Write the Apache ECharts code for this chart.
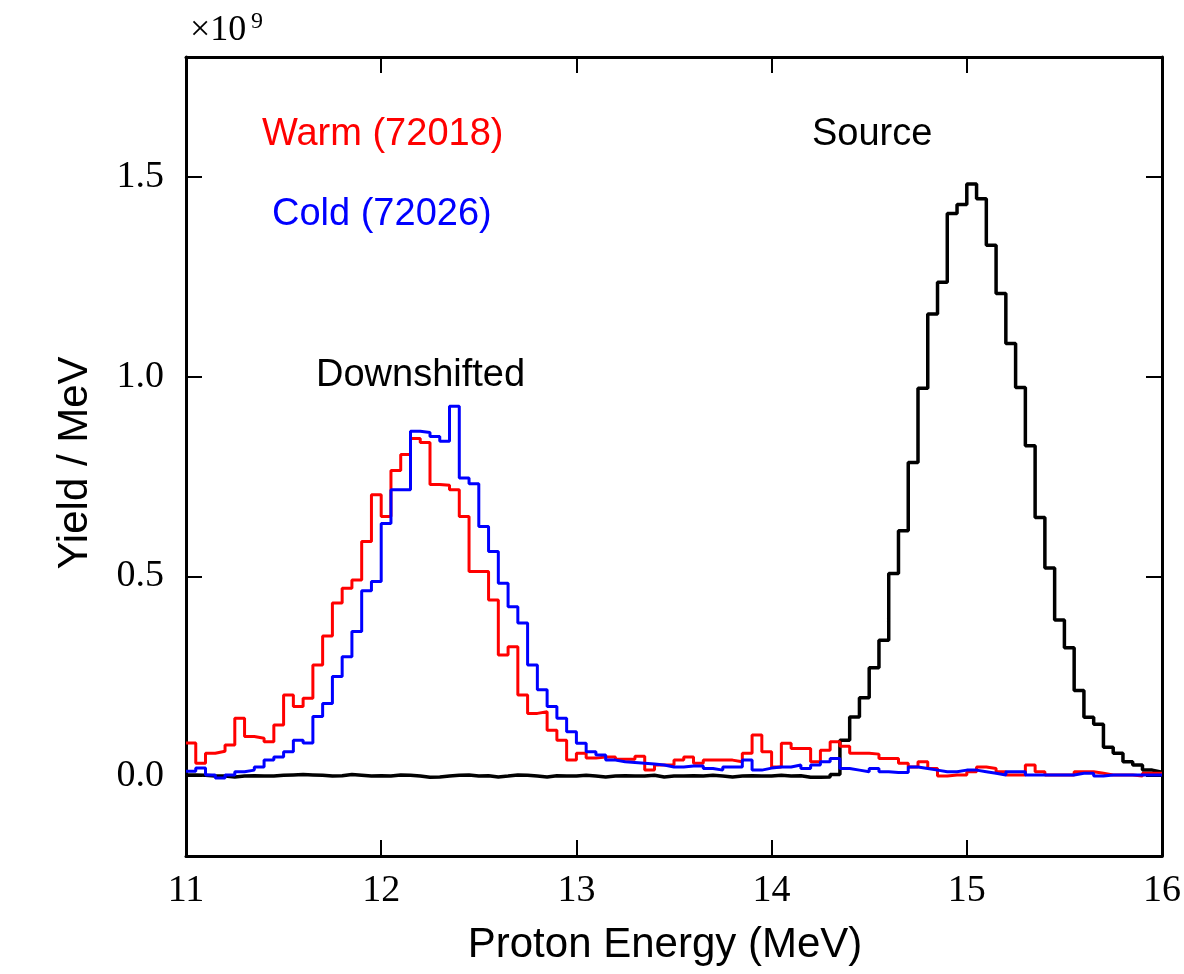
<!DOCTYPE html>
<html>
<head>
<meta charset="utf-8">
<script src="https://cdn.jsdelivr.net/npm/echarts@6.0.0/dist/echarts.min.js"></script>
<style>
  html, body { margin: 0; padding: 0; background: #fff; }
</style>
</head>
<body>
<div id="protonChart" style="width:1184px;height:974px;"></div>
<script>
  // histogram bins: left edge of first bin and bin width (MeV)
  const BIN_START = 11;
  const BIN_WIDTH = 0.05;

  const xTicks = [11, 12, 13, 14, 15, 16];
  const yTicks = [0, 0.5, 1.0, 1.5];

  // yield / MeV in units of 1e9, one value per bin
  const warm72018 = [
    0.083, 0.032, 0.057, 0.062, 0.078, 0.145, 0.099, 0.095, 0.086, 0.128,
    0.203, 0.174, 0.195, 0.278, 0.351, 0.433, 0.470, 0.491, 0.587, 0.704,
    0.650, 0.765, 0.805, 0.845, 0.835, 0.730, 0.728, 0.717, 0.650, 0.512,
    0.512, 0.441, 0.303, 0.324, 0.203, 0.157, 0.161, 0.115, 0.090, 0.040,
    0.057, 0.045, 0.048, 0.048, 0.042, 0.042, 0.050, 0.015, 0.028, 0.028,
    0.040, 0.048, 0.032, 0.040, 0.040, 0.040, 0.036, 0.057, 0.103, 0.061,
    0.023, 0.082, 0.069, 0.069, 0.036, 0.065, 0.086, 0.075, 0.057, 0.057,
    0.055, 0.044, 0.044, 0.032, 0.023, 0.036, 0.019, 0.000, 0.003, 0.003,
    0.011, 0.023, 0.019, 0.011, 0.003, 0.003, 0.028, 0.011, 0.003, 0.003,
    0.003, 0.011, 0.011, 0.007, 0.003, 0.003, 0.003, 0.000, 0.007, 0.007
  ];

  const cold72026 = [
    0.012, 0.020, 0.003, -0.005, 0.003, 0.011, 0.015, 0.023, 0.040, 0.048,
    0.061, 0.090, 0.083, 0.149, 0.182, 0.249, 0.299, 0.362, 0.464, 0.487,
    0.632, 0.717, 0.717, 0.863, 0.860, 0.850, 0.838, 0.926, 0.746, 0.732,
    0.625, 0.562, 0.483, 0.424, 0.383, 0.278, 0.216, 0.174, 0.145, 0.111,
    0.082, 0.061, 0.053, 0.040, 0.036, 0.034, 0.032, 0.030, 0.028, 0.023,
    0.023, 0.025, 0.025, 0.019, 0.015, 0.023, 0.023, 0.040, 0.015, 0.020,
    0.023, 0.023, 0.028, 0.019, 0.028, 0.036, 0.044, 0.019, 0.015, 0.011,
    0.019, 0.011, 0.009, 0.009, 0.023, 0.019, 0.015, 0.011, 0.011, 0.015,
    0.015, 0.011, 0.007, 0.003, 0.011, 0.011, 0.003, 0.003, 0.003, 0.003,
    0.003, 0.007, 0.007, 0.000, 0.003, 0.003, 0.003, 0.003, 0.003, 0.003
  ];

  const source = [
    0.003, 0.002, 0.000, 0.000, -0.002, 0.000, 0.001, 0.000, 0.000, 0.002,
    0.003, 0.004, 0.003, 0.002, 0.000, 0.001, 0.004, 0.002, 0.000, 0.001,
    0.000, 0.003, 0.002, 0.000, -0.003, -0.002, 0.000, 0.002, 0.003, 0.000,
    0.001, -0.002, 0.000, 0.003, 0.002, 0.000, -0.002, 0.001, 0.000, 0.000,
    0.002, 0.000, -0.002, 0.000, 0.001, 0.000, 0.000, 0.002, -0.002, 0.000,
    0.000, 0.001, 0.000, 0.002, 0.000, -0.002, 0.000, 0.001, 0.000, 0.000,
    0.002, 0.000, 0.001, -0.003, -0.003, -0.002, 0.004, 0.090, 0.148, 0.196,
    0.271, 0.340, 0.507, 0.614, 0.785, 0.971, 1.157, 1.236, 1.408, 1.431,
    1.482, 1.445, 1.329, 1.208, 1.083, 0.973, 0.827, 0.647, 0.521, 0.391,
    0.321, 0.214, 0.147, 0.130, 0.072, 0.057, 0.036, 0.028, 0.015, 0.010
  ];

  // bin left edges + closing right edge, drawn with step:'end'
  function toSteps(vals) {
    const pts = vals.map((v, i) => [BIN_START + i * BIN_WIDTH, v]);
    pts.push([BIN_START + vals.length * BIN_WIDTH, vals[vals.length - 1]]);
    return pts;
  }

  const SERIF = 'Liberation Serif';
  const SANS = 'Liberation Sans';

  const frameAxis = {
    show: true,
    onZero: false,
    lineStyle: { color: '#000', width: 3 }
  };
  const innerTick = {
    show: true,
    inside: true,
    length: 16,
    lineStyle: { color: '#000', width: 2 }
  };

  function label(text, x, y, size, color, extra) {
    return Object.assign({
      type: 'text', x: x, y: y,
      style: {
        text: text, fontFamily: SANS, fontSize: size, fill: color,
        verticalAlign: 'middle'
      }
    }, extra || {});
  }

  const chart = echarts.init(document.getElementById('protonChart'));

  const option = {
    animation: false,
    backgroundColor: '#fff',
    grid: { left: 186, right: 19, top: 57, bottom: 118 },
    xAxis: [
      {
        type: 'value', position: 'bottom',
        min: xTicks[0], max: xTicks[xTicks.length - 1], interval: 1,
        axisLine: frameAxis,
        axisTick: innerTick,
        splitLine: { show: false },
        axisLabel: {
          margin: 16, color: '#000', fontFamily: SERIF, fontSize: 38,
          showMinLabel: true, showMaxLabel: true
        }
      },
      {
        type: 'value', position: 'top',
        min: xTicks[0], max: xTicks[xTicks.length - 1], interval: 1,
        axisLine: frameAxis,
        axisTick: innerTick,
        splitLine: { show: false },
        axisLabel: { show: false }
      }
    ],
    yAxis: [
      {
        type: 'value', position: 'left',
        min: -0.2, max: 1.8,
        axisLine: frameAxis,
        axisTick: Object.assign({ customValues: yTicks }, innerTick),
        splitLine: { show: false },
        axisLabel: {
          customValues: yTicks,
          margin: 22, color: '#000', fontFamily: SERIF, fontSize: 38,
          formatter: v => v.toFixed(1)
        }
      },
      {
        type: 'value', position: 'right',
        min: -0.2, max: 1.8,
        axisLine: frameAxis,
        axisTick: Object.assign({ customValues: yTicks }, innerTick),
        splitLine: { show: false },
        axisLabel: { show: false }
      }
    ],
    series: [
      {
        name: 'Source', type: 'line', step: 'end', symbol: 'none',
        lineStyle: { color: '#000', width: 3.5 },
        data: toSteps(source)
      },
      {
        name: 'Warm (72018)', type: 'line', step: 'end', symbol: 'none',
        lineStyle: { color: '#ff0000', width: 3 },
        data: toSteps(warm72018)
      },
      {
        name: 'Cold (72026)', type: 'line', step: 'end', symbol: 'none',
        lineStyle: { color: '#0000ff', width: 3 },
        data: toSteps(cold72026)
      }
    ],
    graphic: [
      // scale factor in the top left corner
      { type: 'text', x: 190, y: 31,
        style: { text: '×10', fontFamily: SERIF, fontSize: 36, fill: '#000', verticalAlign: 'middle' } },
      { type: 'text', x: 251, y: 22,
        style: { text: '9', fontFamily: SERIF, fontSize: 24, fill: '#000', verticalAlign: 'middle' } },
      // annotations
      label('Warm (72018)', 262, 135, 38, '#ff0000'),
      label('Cold (72026)', 272, 215, 38, '#0000ff'),
      label('Source', 812, 135, 38, '#000'),
      label('Downshifted', 316, 376, 38, '#000'),
      // axis titles
      label('Proton Energy (MeV)', 665, 945, 42, '#000',
        { style: { text: 'Proton Energy (MeV)', fontFamily: SANS, fontSize: 42, fill: '#000', align: 'center', verticalAlign: 'middle' } }),
      label('Yield / MeV', 75, 463, 42, '#000',
        { rotation: Math.PI / 2, style: { text: 'Yield / MeV', fontFamily: SANS, fontSize: 42, fill: '#000', align: 'center', verticalAlign: 'middle' } })
    ]
  };

  chart.setOption(option);
</script>
</body>
</html>
